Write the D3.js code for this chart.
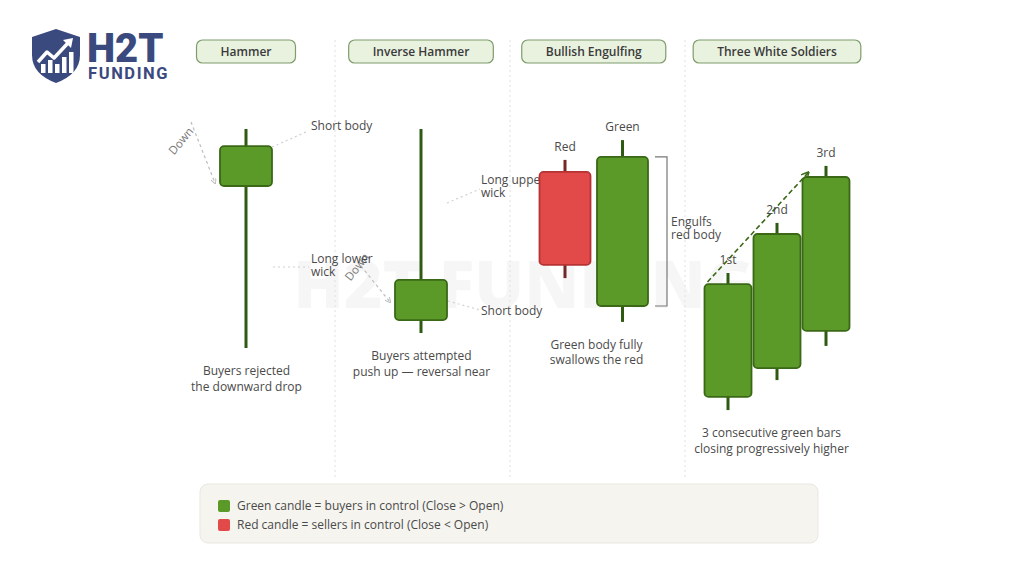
<!DOCTYPE html>
<html>
<head>
<meta charset="utf-8">
<script src="https://cdn.jsdelivr.net/npm/d3@7"></script>
<style>
  body { margin: 0; background: #fff; }
  svg { display: block; font-family: "Open Sans", "Noto Sans", sans-serif; }
</style>
</head>
<body>
<svg id="chart" width="1024" height="572"></svg>
<script>
// pattern panels and their captions
const patterns = ["Hammer", "Inverse Hammer", "Bullish Engulfing", "Three White Soldiers"];
const captions = [
  ["Buyers rejected", "the downward drop"],
  ["Buyers attempted", "push up \u2014 reversal near"],
  ["Green body fully", "swallows the red"],
  ["3 consecutive green bars", "closing progressively higher"]
];

// candles (price units, 0..100)
const candlePattern = ["Hammer", "Inverse Hammer", "Bullish Engulfing", "Bullish Engulfing",
                       "Three White Soldiers", "Three White Soldiers", "Three White Soldiers"];
const candleSlot  = [-0.03, -0.03, -0.65, 0.5, -0.89, 0.09, 1.07];
const candleOpen  = [78, 33.3, 82.7, 38, 7.7, 17.3, 29.7];
const candleClose = [91.3, 46.7, 51.7, 87.7, 45.3, 62, 81];
const candleHigh  = [97, 97, 86.7, 93.3, 49, 65.7, 84.7];
const candleLow   = [24, 29, 47.3, 32.7, 3.3, 13.3, 24.7];
const candleLabel = ["", "", "Red", "Green", "1st", "2nd", "3rd"];

const legendItems = [
  { text: "Green candle = buyers in control (Close > Open)", up: true },
  { text: "Red candle = sellers in control (Close < Open)", up: false }
];

const GREEN = "#5b9a28", GREEN_DARK = "#3a6817", WICK_G = "#2f5a12";
const RED = "#e24a4a", RED_DARK = "#b53333", WICK_R = "#742828";
const TXT = "#4a4a4a";

const svg = d3.select("#chart");

const x = d3.scaleBand().domain(patterns).range([160, 860]);
const slot = d3.scaleLinear().domain([-1, 1]).range([-50, 50]);
const y = d3.scaleLinear().domain([0, 100]).range([420, 120]);

const candles = candlePattern.map((p, i) => ({
  pattern: p,
  cx: x(p) + x.bandwidth() / 2 + slot(candleSlot[i]),
  open: candleOpen[i], close: candleClose[i],
  high: candleHigh[i], low: candleLow[i],
  label: candleLabel[i],
  w: p === "Three White Soldiers" ? 47 : (p === "Bullish Engulfing" ? 51 : 52)
}));

// watermark
svg.append("text")
  .attr("x", 524).attr("y", 308)
  .attr("text-anchor", "middle")
  .attr("font-size", 66).attr("font-weight", 800)
  .attr("fill", "#000").attr("fill-opacity", 0.035)
  .text("H2T FUNDING");

// dividers
svg.selectAll(".divider")
  .data(patterns.slice(1))
  .join("line")
  .attr("x1", d => x(d)).attr("x2", d => x(d))
  .attr("y1", 40).attr("y2", 478)
  .attr("stroke", "#e4e4e4").attr("stroke-width", 1.2)
  .attr("stroke-dasharray", "2,3");

// logo
const logo = svg.append("g");
logo.append("path")
  .attr("d", "M56,29 L80,37 L80,55 Q80,74 56,83 Q32,74 32,55 L32,37 Z")
  .attr("fill", "#3b4a7e");
[[41, 64], [48, 60], [55, 64], [62, 57], [69, 52]].forEach(([bx, by]) => {
  logo.append("rect").attr("x", bx).attr("y", by).attr("width", 4.5).attr("height", 73 - by).attr("fill", "#fff");
});
logo.append("polyline")
  .attr("points", "38,62 47,52 54,58 68,43")
  .attr("fill", "none").attr("stroke", "#fff").attr("stroke-width", 3.5).attr("stroke-linejoin", "round");
logo.append("path").attr("d", "M63,40 L73,38 L71,48 Z").attr("fill", "#fff");
logo.append("text")
  .attr("x", 87).attr("y", 62)
  .attr("font-family", "Roboto, 'Open Sans', sans-serif")
  .attr("font-size", 40).attr("font-weight", 900)
  .attr("fill", "#3b4a7e")
  .text("H2T");
logo.append("text")
  .attr("x", 88).attr("y", 78.5)
  .attr("font-family", "Roboto, 'Open Sans', sans-serif")
  .attr("font-size", 16.5).attr("font-weight", 700)
  .attr("letter-spacing", 1.6)
  .attr("fill", "#3b4a7e")
  .text("FUNDING");

// title pills, centred over each panel's candles
const pills = svg.selectAll(".pill")
  .data(patterns)
  .join("g")
  .attr("class", "pill")
  .attr("transform", p => {
    const cs = candles.filter(c => c.pattern === p);
    const cx = (d3.min(cs, c => c.cx) + d3.max(cs, c => c.cx)) / 2;
    return `translate(${cx},51.5)`;
  });
pills.append("text")
  .attr("text-anchor", "middle").attr("dy", "0.35em")
  .attr("font-size", 12).attr("font-weight", 600)
  .attr("fill", "#3a3a3a")
  .text(d => d);
pills.each(function () {
  const g = d3.select(this);
  const w = g.select("text").node().getComputedTextLength() + 48;
  g.insert("rect", "text")
    .attr("x", -w / 2).attr("y", -11.5).attr("width", w).attr("height", 23)
    .attr("rx", 6)
    .attr("fill", "#e9f2df").attr("stroke", "#7f9c6c").attr("stroke-width", 1.2);
});

// annotation connectors (light dotted)
const dotted = (x1, y1, x2, y2) => svg.append("line")
  .attr("x1", x1).attr("y1", y1).attr("x2", x2).attr("y2", y2)
  .attr("stroke", "#d0d0d0").attr("stroke-width", 1.2).attr("stroke-dasharray", "2,3");
dotted(272, 147, 306, 132);
dotted(273, 267, 309, 267);
dotted(447, 203, 480, 189);
dotted(448, 301, 480, 310);

// arrow markers
const defs = svg.append("defs");
defs.append("marker").attr("id", "arrGray")
  .attr("viewBox", "0 0 10 10").attr("refX", 8).attr("refY", 5)
  .attr("markerWidth", 5).attr("markerHeight", 5).attr("orient", "auto")
  .append("path").attr("d", "M0,0 L10,5 L0,10").attr("fill", "none").attr("stroke", "#b8b8b8").attr("stroke-width", 1.5);
defs.append("marker").attr("id", "arrGreen")
  .attr("viewBox", "0 0 10 10").attr("refX", 8).attr("refY", 5)
  .attr("markerWidth", 5).attr("markerHeight", 5).attr("orient", "auto")
  .append("path").attr("d", "M0,0 L10,5 L0,10").attr("fill", "none").attr("stroke", GREEN_DARK).attr("stroke-width", 1.8);

// "Down" arrows
[[191, 122, 215, 183, 181, 141, -50], [361, 266, 390, 302, 357, 267, -52]].forEach(([x1, y1, x2, y2, tx, ty, a]) => {
  svg.append("line")
    .attr("x1", x1).attr("y1", y1).attr("x2", x2).attr("y2", y2)
    .attr("stroke", "#bdbdbd").attr("stroke-width", 1.2).attr("stroke-dasharray", "3,3")
    .attr("marker-end", "url(#arrGray)");
  svg.append("text")
    .attr("transform", `translate(${tx},${ty}) rotate(${a})`)
    .attr("text-anchor", "middle").attr("dy", "0.35em")
    .attr("font-size", 11.5).attr("fill", "#777")
    .text("Down");
});

// annotation texts
const note = (tx, ty, lines) => {
  const t = svg.append("text").attr("x", tx).attr("y", ty).attr("font-size", 12).attr("fill", TXT);
  lines.forEach((l, i) => t.append("tspan").attr("x", tx).attr("dy", i ? 13 : 0).text(l));
};
note(311, 130, ["Short body"]);
note(311, 263, ["Long lower", "wick"]);
note(481, 184, ["Long upper", "wick"]);
note(481, 315, ["Short body"]);
note(671, 226, ["Engulfs", "red body"]);

// soldiers trend arrow
const sol = candles.filter(c => c.pattern === "Three White Soldiers");
svg.append("line")
  .attr("x1", sol[0].cx - sol[0].w / 2 + 3).attr("y1", y(sol[0].high) + 9)
  .attr("x2", sol[2].cx - 18).attr("y2", y(sol[2].high) + 7)
  .attr("stroke", GREEN_DARK).attr("stroke-width", 1.6).attr("stroke-dasharray", "5,3")
  .attr("marker-end", "url(#arrGreen)");

// engulfing bracket
const eng = candles.filter(c => c.pattern === "Bullish Engulfing")[1];
const bx = eng.cx + eng.w / 2 + 19;
svg.append("path")
  .attr("d", `M${bx - 12},${y(eng.close)} H${bx} V${y(eng.open)} H${bx - 12}`)
  .attr("fill", "none").attr("stroke", "#777").attr("stroke-width", 1.2);

// candles
const cg = svg.selectAll(".candle")
  .data(candles)
  .join("g")
  .attr("class", "candle");
cg.append("line")
  .attr("x1", d => d.cx).attr("x2", d => d.cx)
  .attr("y1", d => y(d.high)).attr("y2", d => y(d.low))
  .attr("stroke", d => d.close >= d.open ? WICK_G : WICK_R)
  .attr("stroke-width", 3);
cg.append("rect")
  .attr("x", d => d.cx - d.w / 2)
  .attr("y", d => y(Math.max(d.open, d.close)))
  .attr("width", d => d.w)
  .attr("height", d => Math.abs(y(d.open) - y(d.close)))
  .attr("rx", 4)
  .attr("fill", d => d.close >= d.open ? GREEN : RED)
  .attr("stroke", d => d.close >= d.open ? GREEN_DARK : RED_DARK)
  .attr("stroke-width", 1.8);
cg.append("text")
  .attr("x", d => d.cx).attr("y", d => y(d.high) - 9)
  .attr("text-anchor", "middle")
  .attr("font-size", 12).attr("fill", TXT)
  .text(d => d.label);

// captions
patterns.forEach((p, i) => {
  const cs = candles.filter(c => c.pattern === p);
  const cy = y(d3.min(cs, c => c.low)) + 27;
  const cx = x(p) + x.bandwidth() / 2 - 1;
  const t = svg.append("text").attr("x", cx).attr("y", cy)
    .attr("text-anchor", "middle").attr("font-size", 12).attr("fill", TXT);
  captions[i].forEach((l, j) => t.append("tspan").attr("x", cx).attr("dy", j ? 15.5 : 0).text(l));
});

// legend
svg.append("rect")
  .attr("x", 200).attr("y", 484).attr("width", 618).attr("height", 59)
  .attr("rx", 8)
  .attr("fill", "#f5f4ef").attr("stroke", "#e9e7e0");
const lg = svg.selectAll(".leg")
  .data(legendItems)
  .join("g")
  .attr("transform", (d, i) => `translate(218,${500 + i * 19})`);
lg.append("rect")
  .attr("width", 12).attr("height", 12).attr("rx", 2)
  .attr("fill", d => d.up ? GREEN : RED);
lg.append("text")
  .attr("x", 19).attr("y", 6).attr("dy", "0.35em")
  .attr("font-size", 12).attr("fill", TXT)
  .text(d => d.text);
</script>
</body>
</html>
